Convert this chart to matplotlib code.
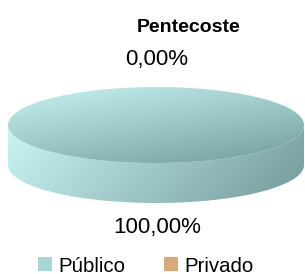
import numpy as np
import matplotlib.pyplot as plt
from matplotlib.patches import Polygon, Patch
from matplotlib.colors import LinearSegmentedColormap

plt.rcParams['font.family'] = ['Liberation Sans', 'DejaVu Sans']

titulo = 'Pentecoste'
categorias = ['Público', 'Privado']
valores = [100.0, 0.0]
etiquetas = ['100,00%', '0,00%']

# gradientes (claro -> oscuro) de cada fatia
cores_topo = [('#c6f4f2', '#729c9c'), ('#f0cc9c', '#b88858')]
cores_lado = [('#c8f6f4', '#749a9a'), ('#f0cc9c', '#b07f50')]
cores_legenda = ['#a6d6d6', '#d8aa7a']

W, H = 305, 274
cx, cy = 156, 125      # centro da elipse de cima (pixels)
a, b = 148, 38         # semi-eixos
d = 40                 # altura do cilindro

fig = plt.figure(figsize=(W / 100, H / 100), dpi=100)
ax = fig.add_axes([0, 0, 1, 1])
ax.set_axis_off()


def ponto(t, dy=0):
    return cx + a * np.sin(t), cy - b * np.cos(t) + dy


def gradiente(patch, c1, c2, ext, wx=0.8, wy=0.6):
    x0, x1, y0, y1 = ext
    X, Y = np.meshgrid(np.linspace(0, 1, 200), np.linspace(0, 1, 100))
    g = wx * X + wy * Y
    g = (g - g.min()) / (g.max() - g.min())
    cmap = LinearSegmentedColormap.from_list('g', [c1, c2])
    ax.add_patch(patch)
    im = ax.imshow(g, cmap=cmap, extent=(x0, x1, y1, y0), aspect='auto',
                   interpolation='bilinear', zorder=patch.get_zorder())
    im.set_clip_path(patch)


total = sum(valores)
ang = 0.0
meios = []
for i, v in enumerate(valores):
    t1 = ang
    t2 = ang + 2 * np.pi * v / total
    ang = t2
    meios.append((t1 + t2) / 2)
    if v <= 0:
        continue
    # lateral visivel (metade da frente)
    s1, s2 = max(t1, np.pi / 2), min(t2, 3 * np.pi / 2)
    if s2 > s1:
        ts = np.linspace(s1, s2, 200)
        cima = [ponto(t) for t in ts]
        baixo = [ponto(t, d) for t in ts[::-1]]
        lado = Polygon(cima + baixo, closed=True, fc='none', ec='none', zorder=2)
        gradiente(lado, cores_lado[i][0], cores_lado[i][1],
                  (cx - a, cx + a, cy, cy + b + d), wx=1.0, wy=0.25)
    # topo
    ts = np.linspace(t1, t2, 400)
    pts = [ponto(t) for t in ts]
    if t2 - t1 < 2 * np.pi - 1e-9:
        pts = [(cx, cy)] + pts
    topo = Polygon(pts, closed=True, fc='none', ec='none', zorder=3)
    gradiente(topo, cores_topo[i][0], cores_topo[i][1],
              (cx - a, cx + a, cy - b, cy + b), wx=0.6, wy=0.9)

# rotulos de porcentagem
for lab, t in zip(etiquetas, meios):
    x = cx + 1
    if np.cos(t) >= 0:
        y = cy - b - 22
    else:
        y = cy + b + d + 30
    ax.text(x, y, lab, ha='center', va='baseline', fontsize=16, color='black')

ax.text(189, 32, titulo, ha='center', va='baseline', fontsize=14,
        fontweight='bold', color='black')

handles = [Patch(fc=c, ec='none') for c in cores_legenda]
ax.legend(handles, categorias, loc='center', bbox_to_anchor=(146 / W, 1 - 266 / H),
          ncol=2, frameon=False, fontsize=14.7, handlelength=0.69,
          handleheight=0.69, handletextpad=0.3, columnspacing=1.9, borderpad=0)

ax.set_xlim(0, W)
ax.set_ylim(H, 0)
fig.savefig('out.png', dpi=100)
